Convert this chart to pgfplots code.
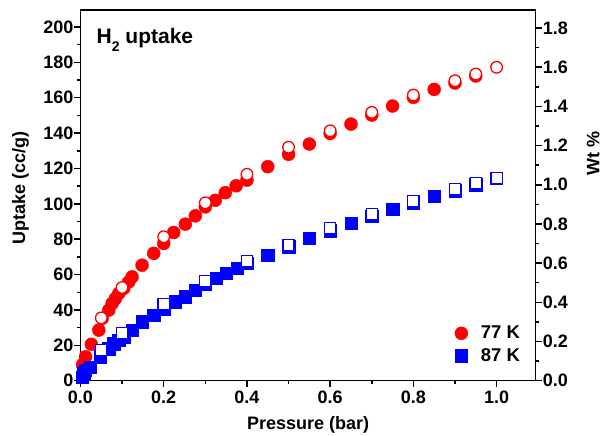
\documentclass[border=0pt]{standalone}
\usepackage{fontspec}
\setmainfont{Liberation Sans}
\usepackage{pgfplots}
\pgfplotsset{compat=1.18}
\definecolor{myred}{RGB}{255,0,0}
\definecolor{myblue}{RGB}{0,0,255}
\begin{document}
\begin{tikzpicture}
\useasboundingbox (0,0) rectangle (603pt,436pt);
\pgfplotsset{
 common/.style={
  at={(80.5pt,55.3pt)}, anchor=south west,
  scale only axis, width=455.2pt, height=370.7pt,
  xmin=0, xmax=1.094,
  axis line style={line width=1.5pt},
  every tick/.style={line width=1.5pt,black},
  major tick length=6pt, minor tick length=3.5pt,
  tick align=outside,
  /pgf/number format/assume math mode=true,
  ticklabel style={font=\fontsize{18}{20}\selectfont\bfseries, inner sep=1pt},
  label style={font=\fontsize{18}{20}\selectfont\bfseries},
 }
}
\begin{axis}[common,
  ymin=0, ymax=209.6,
  xtick={0,0.2,0.4,0.6,0.8,1.0}, minor x tick num=1,
  ytick={0,20,...,200}, minor y tick num=1,
  xtick pos=bottom, ytick pos=left,
  xticklabel style={yshift=-3pt, /pgf/number format/.cd, fixed, fixed zerofill, precision=1},
  xlabel={Pressure (bar)}, ylabel={Uptake (cc/g)},
  xlabel style={at={(axis description cs:0.5,-0.119)}, anchor=center},
  ylabel style={at={(axis description cs:-0.132,0.52)}, anchor=center},
  legend style={draw=none, fill=none, at={(0.822,0.153)}, anchor=north west,
    font=\fontsize{18.5}{20}\selectfont\bfseries, row sep=4pt, column sep=11pt, inner sep=0pt},
  legend cell align=left,
]
\addplot[only marks, mark=*, mark size=6.5pt, mark options={fill=myred, draw=myred}] coordinates {
(0.005,9) (0.008,9.7) (0.012,13.5) (0.026,20.6) (0.044,28.6) (0.052,35.2) (0.068,39.9) (0.076,43.7)
(0.084,46.5) (0.092,49.3) (0.104,52.2) (0.116,55.9) (0.124,58.7) (0.148,65.3) (0.176,72)
(0.2,77.6) (0.224,83.8) (0.252,88.5) (0.276,93.2) (0.3,98.3) (0.324,102) (0.348,106.3)
(0.374,110.2) (0.4,113.4) (0.45,121) (0.5,128) (0.55,133.8) (0.6,139.8) (0.65,145.1)
(0.7,150.2) (0.75,155.3) (0.8,160.2) (0.85,164.7) (0.9,168.3) (0.95,172.3)
};
\addlegendentry{77 K}
\addplot[only marks, mark=square*, mark size=6.2pt, mark options={fill=myblue, draw=myblue}] coordinates {
(0.004,2) (0.008,4) (0.012,5.9) (0.024,7.8) (0.048,13.5) (0.068,18.2) (0.08,21) (0.092,22.9)
(0.104,24.8) (0.124,28.6) (0.148,33.3) (0.176,37.1) (0.2,40.8) (0.228,44.6) (0.252,47.4)
(0.276,51.2) (0.3,54.5) (0.326,57.8) (0.35,60.7) (0.376,63.5) (0.4,66.3) (0.45,71)
(0.5,75.7) (0.55,80.4) (0.6,84.8) (0.65,88.9) (0.7,93.1) (0.75,96.8) (0.8,100.3)
(0.85,104.4) (0.9,107.5) (0.95,110.8)
};
\addlegendentry{87 K}
\addplot[only marks, mark=*, mark size=5.8pt, mark options={fill=white, draw=myred, line width=1.3pt}, forget plot] coordinates {
(0.05,35.5) (0.1,52.7) (0.2,81.4) (0.3,100.6) (0.4,116.7) (0.5,132) (0.6,141.3)
(0.7,151.7) (0.8,161.5) (0.9,169.6) (0.95,173.4) (1.0,177.2)
};
\addplot[only marks, mark=square*, mark size=5.6pt, mark options={fill=white, draw=myblue, line width=1.3pt}, forget plot] coordinates {
(0.05,17.3) (0.1,27) (0.2,43.3) (0.3,56.5) (0.4,67.8) (0.5,76.7) (0.6,86.1)
(0.7,94.2) (0.8,101.5) (0.9,108.3) (0.95,111.6) (1.0,114.4)
};
\node[anchor=base west, font=\fontsize{21}{24}\selectfont\bfseries, inner sep=0pt] at (rel axis cs:0.035,0.910)
  {H\raisebox{-8.4pt}{\fontsize{14}{14}\selectfont 2} uptake};
\end{axis}
\begin{axis}[common,
  hide x axis, axis y line*=right,
  ymin=0, ymax=1.892,
  ytick={0,0.2,...,1.8}, minor y tick num=1,
  yticklabel style={/pgf/number format/.cd, fixed, fixed zerofill, precision=1},
  ylabel={Wt \%},
  ylabel style={at={(axis description cs:1.126,0.614)}, anchor=center},
]
\end{axis}
\end{tikzpicture}
\end{document}
